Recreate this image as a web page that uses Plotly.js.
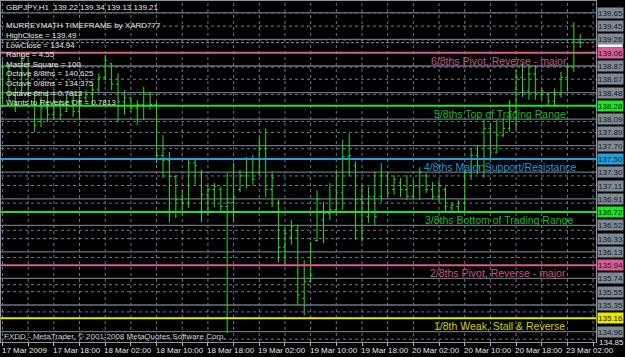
<!DOCTYPE html>
<html><head><meta charset="utf-8">
<script src="https://cdn.plot.ly/plotly-3.0.1.min.js"></script>
<style>html,body{margin:0;padding:0;background:#000;}#chart{width:625px;height:357px;}</style>
</head><body><div id="chart"></div>
<script>
// ---- data ----
const high = [138.95,138.90,138.55,139.07,138.95,138.49,138.41,138.51,138.51,138.37,138.44,138.47,138.49,138.51,138.59,138.76,139.03,138.91,138.76,138.51,138.41,138.37,138.56,138.49,138.34,137.85,137.60,137.26,137.04,137.51,137.51,137.34,137.12,137.15,137.09,137.29,137.44,137.34,137.53,137.56,137.82,137.95,137.31,136.90,136.49,136.60,136.53,136.01,136.28,137.04,136.87,137.15,137.34,137.78,137.88,137.46,137.12,137.09,137.31,137.44,137.31,137.26,137.22,137.26,137.19,137.38,137.29,137.16,137.19,137.09,136.87,136.90,137.34,137.66,137.69,138.07,138.03,138.07,138.10,138.37,138.81,138.91,138.88,138.88,138.54,138.47,138.54,138.78,138.91,139.51,139.34];
const low  = [138.30,138.35,138.19,138.49,138.40,137.90,137.97,138.04,138.07,138.07,138.19,138.12,138.07,138.34,138.29,138.47,138.66,138.51,138.04,138.15,138.19,138.00,138.07,138.22,137.44,137.22,136.57,136.63,136.68,136.78,137.12,136.57,136.68,136.79,136.72,134.94,136.57,137.01,137.07,137.12,137.26,136.94,136.79,135.98,135.94,136.24,135.35,135.20,135.68,136.28,136.26,136.60,136.68,136.75,137.24,136.31,136.28,136.56,136.53,136.87,136.94,136.97,136.94,136.90,136.90,136.90,137.00,136.90,136.87,136.72,136.71,136.71,136.71,137.19,137.28,137.22,137.48,137.58,137.82,137.90,137.93,138.41,138.37,138.37,138.37,138.29,138.26,138.40,138.49,138.78,139.13];
const open = [138.40,138.85,138.45,138.50,138.90,138.45,138.05,138.25,138.15,138.30,138.20,138.35,138.20,138.40,138.45,138.52,138.70,138.90,138.60,138.34,138.40,138.25,138.30,138.45,138.30,137.55,137.48,137.24,136.90,136.85,137.44,137.30,136.97,137.05,137.05,136.80,136.86,137.05,137.25,137.30,137.30,137.65,137.05,136.85,136.20,136.35,136.45,135.45,135.70,136.30,136.60,136.70,136.75,137.00,137.53,137.40,136.90,136.65,136.95,136.95,137.25,137.05,137.15,137.05,136.95,137.10,137.25,137.05,136.95,137.05,136.78,136.80,136.85,137.30,137.55,137.40,137.95,137.60,137.85,137.95,138.20,138.70,138.50,138.75,138.45,138.45,138.35,138.45,138.70,138.85,139.22];
const close= [138.85,138.45,138.30,138.95,138.48,138.00,138.25,138.15,138.35,138.15,138.35,138.20,138.40,138.45,138.52,138.70,138.95,138.60,138.34,138.40,138.25,138.30,138.45,138.30,137.55,137.48,137.24,136.90,136.85,137.44,137.40,136.97,137.05,137.10,136.80,136.86,136.94,137.25,137.30,137.20,137.65,137.05,137.22,136.20,136.40,136.50,135.50,135.70,135.79,136.90,136.70,136.75,137.00,137.53,137.55,136.90,136.85,136.95,136.65,137.25,137.00,137.20,137.05,136.95,137.10,137.30,137.05,136.95,137.10,136.80,136.82,136.85,137.30,137.55,137.40,137.95,137.60,137.85,137.95,138.20,138.70,138.50,138.75,138.45,138.50,138.35,138.45,138.70,138.85,139.22,139.21];

const timeTickBars = [0,8,16,24,32,40,48,56,64,72,80,88];
const timeLabels = ['17 Mar 2009','17 Mar 18:00','18 Mar 02:00','18 Mar 10:00','18 Mar 18:00','19 Mar 02:00','19 Mar 10:00','19 Mar 18:00','20 Mar 02:00','20 Mar 10:00','20 Mar 18:00','23 Mar 02:00'];

// Murrey Math octave lines
const mmPrices = [139.0625, 138.28125, 137.5, 136.71875, 135.9375, 135.15625];
const mmNames  = ['6/8ths Pivot, Reverse - major','5/8ths Top of Trading Range','4/8ths Major Support/Resistance','3/8ths Bottom of Trading Range','2/8ths Pivot, Reverse - major','1/8th Weak, Stall & Reverse'];
const mmLabels = ['139.06','138.28','137.50','136.72','135.94','135.16'];
// quarter sub-levels (solid grey) and half sub-levels (dotted)
const quarterPrices = [139.6484,139.2578,138.8672,138.4766,138.0859,137.6953,137.3047,136.9141,136.5234,136.1328,135.7422,135.3516,134.9609];
const quarterLabels = ['139.65','139.26','138.87','138.48','138.09','137.70','137.30','136.91','136.52','136.13','135.74','135.35','134.96'];
const halfPrices = [139.4531,138.6719,137.8906,137.1094,136.3281,135.5469];
const halfLabels = ['139.45','138.67','137.89','137.11','136.33','135.55'];
// terminal price-scale grid
const gridPrices = [139.65,139.25,138.85,138.45,138.05,137.65,137.25,136.85,136.45,136.05,135.65,135.25,134.85];
const scaleBottomPrice = 134.85, scaleBottomLabel = '134.85';
const bidPrice = 139.21;

const infoLines = ['GBPJPY,H1\u00a0\u00a0139.22 139.34 139.13 139.21','MURREYMATH TIMEFRAME by XARD777','HighClose = 139.49','LowClose = 134.94','Range = 4.55','Master Square = 100','Octave 8/8ths = 140.625','Octave 0/8ths = 134.375','Octave 8ths = 0.7813','Wants to Reverse Off = 0.7813'];
const footer = 'FXDD - MetaTrader, \u00a9 2001-2008 MetaQuotes Software Corp.';

// ---- chart ----
const FONT = 'Liberation Sans, Arial, sans-serif';
const mmColors = ['#dc5a96','#22e022','#1ea0dc','#22e022','#dc5a96','#e8e800'];
const mmTextColors = ['#c8558a','#1fb81f','#2299d2','#1fb81f','#c8558a','#d4d400'];
const mmTextX = [0.953,0.951,0.968,0.963,0.952,0.950];

const barIdx = high.map((_, i) => i);
const H = 341, ML = 1, MT = 1;
function py2paper(py){ return 1 - (py - MT)/H; }

const shapes = [];
const annotations = [];
const vgrid = [];
for (let i = 0; i <= 92; i += 4) vgrid.push(i);
vgrid.forEach(i => shapes.push({type:'line', xref:'x', yref:'paper', x0:i, x1:i, y0:0, y1:1, layer:'below', line:{color:'#6c7682', width:1, dash:'3px,3px'}}));
gridPrices.forEach(p => shapes.push({type:'line', xref:'paper', yref:'y', x0:0, x1:1, y0:p, y1:p, layer:'below', line:{color:'#6c7682', width:1, dash:'3px,3px'}}));
halfPrices.forEach(p => shapes.push({type:'line', xref:'paper', yref:'y', x0:0, x1:1, y0:p, y1:p, layer:'below', line:{color:'#747e8a', width:1, dash:'3px,3px'}}));
quarterPrices.forEach(p => shapes.push({type:'line', xref:'paper', yref:'y', x0:0, x1:1, y0:p, y1:p, layer:'below', line:{color:'#6a737d', width:1.3}}));
shapes.push({type:'line', xref:'paper', yref:'y', x0:0, x1:1, y0:bidPrice, y1:bidPrice, layer:'below', line:{color:'#8a949e', width:1, dash:'3px,2px'}});
mmPrices.forEach((p, k) => shapes.push({type:'line', xref:'paper', yref:'y', x0:0, x1:1, y0:p, y1:p, layer:'above', line:{color:mmColors[k], width:2}}));
// bid price marker on the scale (mostly hidden by the level labels)
shapes.push({type:'rect', xref:'paper', yref:'y', x0:1.003, x1:1.045, y0:bidPrice - 0.07, y1:bidPrice + 0.03, layer:'above', fillcolor:'#ffffff', line:{width:0}});

function boxLabel(p, t, bg){
  annotations.push({xref:'paper', yref:'y', x:1.002, y:p, xanchor:'left', yanchor:'middle', text:t, showarrow:false, width:25, height:10, bgcolor:bg, borderpad:0, font:{family:FONT, size:8, color:'#101c28'}});
}
quarterPrices.forEach((p, k) => boxLabel(p, quarterLabels[k], '#7f8994'));
halfPrices.forEach((p, k) => boxLabel(p, halfLabels[k], '#7f8994'));
mmPrices.forEach((p, k) => boxLabel(p, mmLabels[k], mmColors[k]));
annotations.push({xref:'paper', yref:'y', x:1.004, y:scaleBottomPrice, xanchor:'left', yanchor:'middle', yshift:-3, text:scaleBottomLabel, showarrow:false, borderpad:0, font:{family:FONT, size:8, color:'#e8e8e8'}});

mmPrices.forEach((p, k) => annotations.push({xref:'paper', yref:'y', x:mmTextX[k], y:p, xanchor:'right', yanchor:'top', yshift:-1, text:mmNames[k], showarrow:false, borderpad:0, font:{family:FONT, size:10.5, color:mmTextColors[k]}}));

const infoY = [7.5,25.7,35.7,45,55,64,73.5,83,93,103];
infoLines.forEach((t, k) => annotations.push({xref:'paper', yref:'paper', x:0.0067, y:py2paper(infoY[k]), xanchor:'left', yanchor:'middle', text:t, showarrow:false, borderpad:0, font:{family:FONT, size:8, color:'#e6e6e6'}}));
annotations.push({xref:'paper', yref:'paper', x:0.003, y:py2paper(336.5), xanchor:'left', yanchor:'middle', text:footer, showarrow:false, borderpad:0, font:{family:FONT, size:8, color:'#d0d0d0'}});

timeTickBars.forEach((b, k) => annotations.push({xref:'x', yref:'paper', x:b, y:py2paper(350), xanchor:'left', yanchor:'middle', xshift:-2, text:timeLabels[k], showarrow:false, borderpad:0, font:{family:FONT, size:8, color:'#e6e6e6'}}));

const trace = {
  type:'ohlc', x:barIdx, open:open, high:high, low:low, close:close,
  increasing:{line:{color:'#1ee01e', width:1}},
  decreasing:{line:{color:'#1ee01e', width:1}},
  tickwidth:0.3, hoverinfo:'skip'
};

const layout = {
  width:625, height:357,
  margin:{l:ML, r:29, t:MT, b:15, pad:0},
  paper_bgcolor:'#000', plot_bgcolor:'#000',
  showlegend:false,
  xaxis:{type:'linear', range:[-0.234, 92.45], showgrid:false, zeroline:false, showticklabels:false,
         tickmode:'array', tickvals:vgrid, ticks:'outside', ticklen:3, tickcolor:'#b0b8c0',
         showline:true, linecolor:'#8c96a0', linewidth:1, mirror:true, rangeslider:{visible:false}, fixedrange:true},
  yaxis:{range:[134.8078, 139.8228], showgrid:false, zeroline:false, showticklabels:false, side:'right',
         showline:true, linecolor:'#8c96a0', linewidth:1, mirror:true, ticks:'', fixedrange:true},
  shapes:shapes, annotations:annotations
};
Plotly.newPlot('chart', [trace], layout, {staticPlot:true, displayModeBar:false});
</script></body></html>
